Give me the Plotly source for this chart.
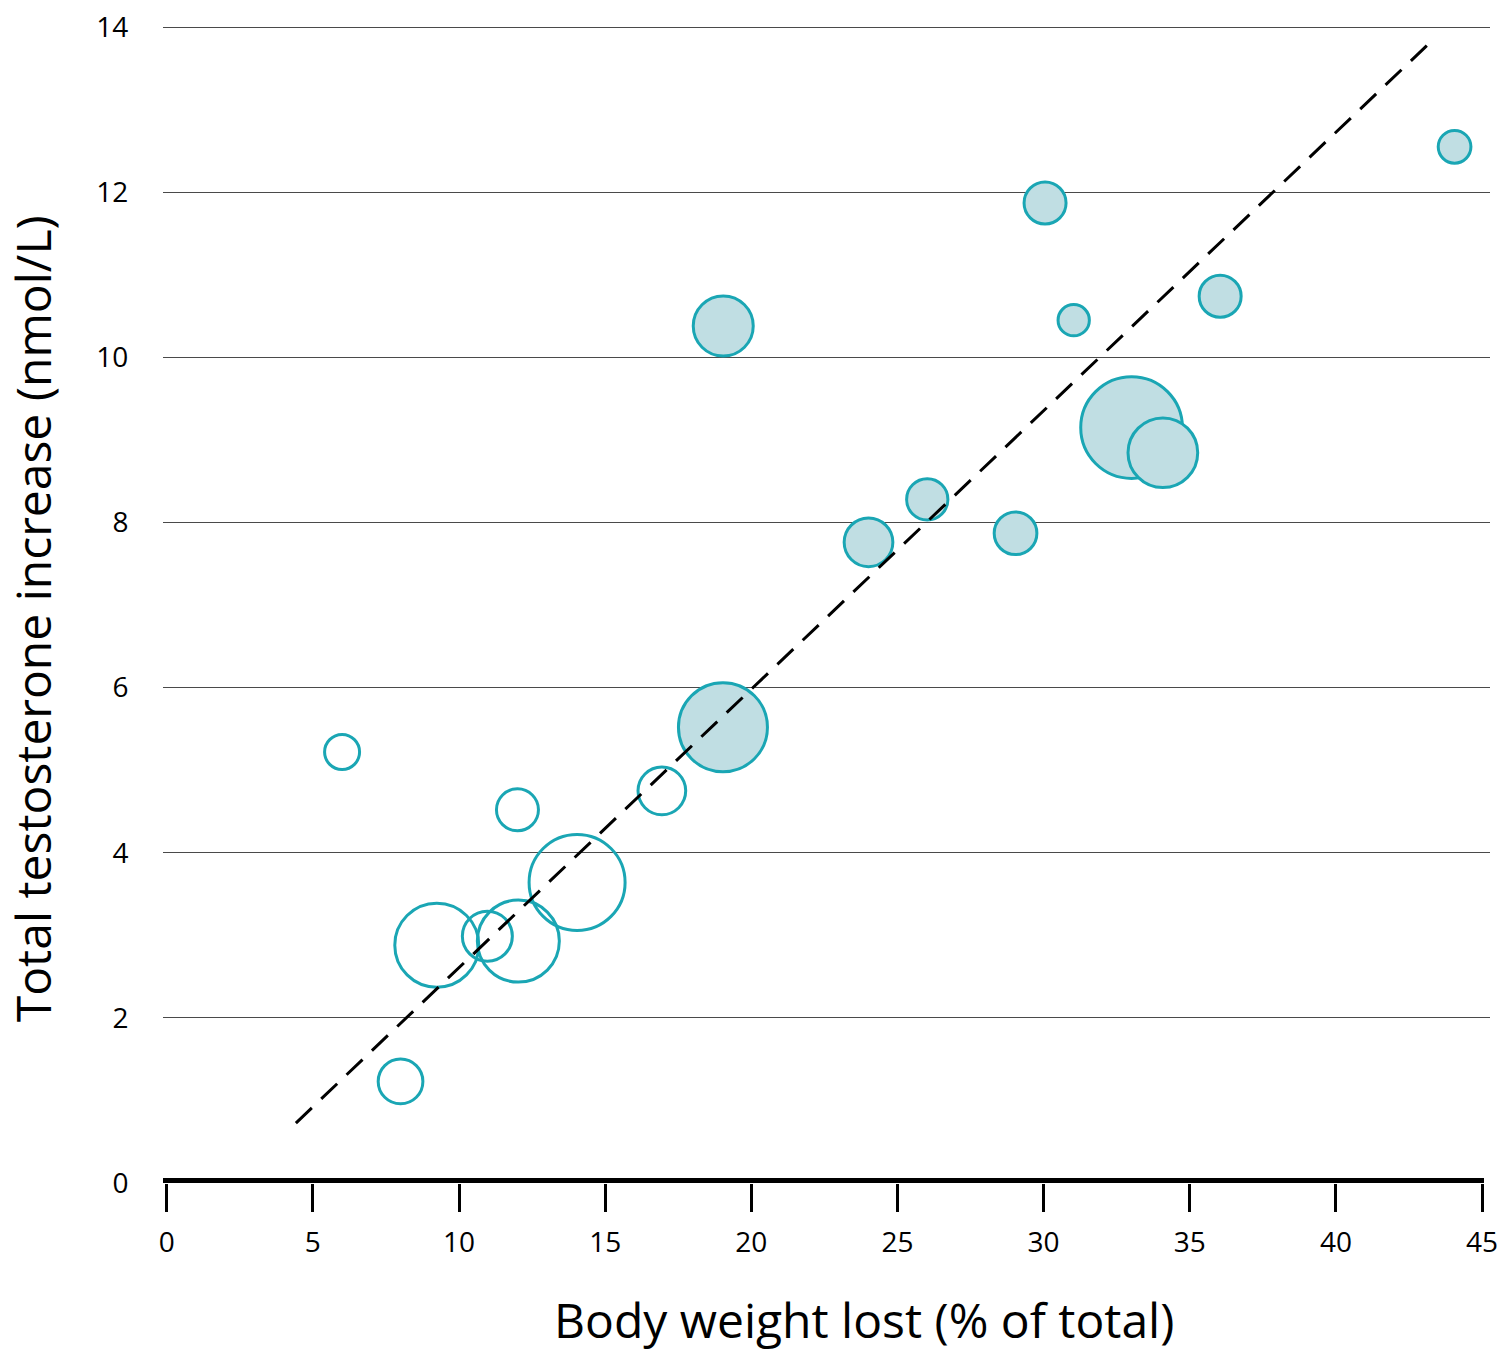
import plotly.graph_objects as go

# ---- data ----
hollow_x = [6.0, 8.0, 9.24, 10.97, 12.0, 12.03, 14.04, 16.94]
hollow_y = [5.22, 1.23, 2.88, 2.99, 4.52, 2.93, 3.64, 4.75]
hollow_size = [35, 44.7, 84, 50, 42, 82, 96, 47.7]

filled_x = [19.04, 19.03, 24.01, 26.02, 29.04, 30.05, 31.03, 33.01, 34.08, 36.04, 44.06]
filled_y = [10.38, 5.52, 7.76, 8.28, 7.87, 11.87, 10.45, 9.15, 8.845, 10.74, 12.55]
filled_size = [60, 89, 48.7, 41.3, 42.7, 42, 31.3, 101.7, 69.7, 42, 32.7]

fit_x = [4.42, 43.33]
fit_y = [0.726, 13.85]

x_ticks = [0, 5, 10, 15, 20, 25, 30, 35, 40, 45]
y_ticks = [0, 2, 4, 6, 8, 10, 12, 14]

x_title = "Body weight lost (% of total)"
y_title = "Total testosterone increase (nmol/L)"

# ---- style ----
TEAL = "rgb(26,166,180)"
FILL = "rgb(192,222,227)"
FONT = "Open Sans"

W, H = 1501, 1358
PX_X = 29.23      # px per x unit
PX_Y = 82.59      # px per y unit
X0_PX = 166.7     # pixel of x = 0
Y0_PX = 1183      # pixel of y = 0
Y_TOP = 14.05

ML = 163
MR = 11
MB = H - Y0_PX
MT = Y0_PX - Y_TOP * PX_Y
plot_w = W - ML - MR
plot_h = H - MT - MB

fig = go.Figure()

fig.add_trace(go.Scatter(
    x=hollow_x, y=hollow_y, mode="markers",
    marker=dict(size=hollow_size, sizemode="diameter", color="rgba(0,0,0,0)",
                opacity=1, line=dict(color=TEAL, width=3)),
    showlegend=False, hoverinfo="skip", cliponaxis=False,
))
fig.add_trace(go.Scatter(
    x=filled_x, y=filled_y, mode="markers",
    marker=dict(size=filled_size, sizemode="diameter", color=FILL, opacity=1,
                line=dict(color=TEAL, width=3)),
    showlegend=False, hoverinfo="skip", cliponaxis=False,
))
fig.add_trace(go.Scatter(
    x=fit_x, y=fit_y, mode="lines",
    line=dict(color="black", width=3, dash="22px,13px"),
    showlegend=False, hoverinfo="skip",
))

x0 = (ML - X0_PX) / PX_X
x1 = (W - MR - X0_PX) / PX_X

fig.update_layout(
    width=W, height=H,
    margin=dict(l=ML, r=MR, t=MT, b=MB, pad=0, autoexpand=False),
    paper_bgcolor="white", plot_bgcolor="white",
    font=dict(family=FONT, color="black", size=28),
    xaxis=dict(
        range=[x0, x1], tickvals=x_ticks, ticktext=[str(v) for v in x_ticks],
        showgrid=False, zeroline=False, showline=False, automargin=False,
        ticks="outside", ticklen=28, tickwidth=3, tickcolor="black",
        tickfont=dict(family=FONT, size=28, color="black"),
        ticklabelstandoff=6,
    ),
    yaxis=dict(
        range=[0, Y_TOP], tickvals=y_ticks, ticktext=[str(v) for v in y_ticks],
        showgrid=True, gridcolor="#4a4a4a", gridwidth=1.2, automargin=False,
        zeroline=False, showline=False,
        ticks="outside", ticklen=28, tickcolor="rgba(0,0,0,0)",
        tickfont=dict(family=FONT, size=28, color="black"),
    ),
    shapes=[dict(
        type="line", xref="x", yref="y",
        x0=(153 - X0_PX) / PX_X, x1=(1484 - X0_PX) / PX_X, y0=0, y1=0,
        line=dict(color="black", width=10), layer="above",
    )],
    annotations=[
        dict(text=x_title, xref="paper", yref="paper",
             x=(864 - ML) / plot_w, y=(Y0_PX - 1320) / plot_h,
             xanchor="center", yanchor="middle", showarrow=False,
             font=dict(family=FONT, size=48, color="black")),
        dict(text=y_title, xref="paper", yref="paper",
             x=(32 - ML) / plot_w, y=(Y0_PX - 619) / plot_h,
             xanchor="center", yanchor="middle", showarrow=False, textangle=-90,
             font=dict(family=FONT, size=48, color="black")),
    ],
)

fig.write_html(
    "out.html",
    config={"displayModeBar": False},
    post_script="document.body.style.margin='0';document.body.style.overflow='hidden';",
)
